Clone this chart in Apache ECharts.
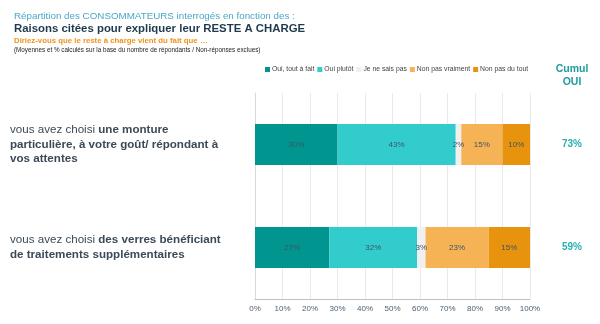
<!DOCTYPE html>
<html><head><meta charset="utf-8">
<script src="https://cdn.jsdelivr.net/npm/echarts@6/dist/echarts.min.js"></script>
<style>html,body{margin:0;padding:0;background:#fff}#c{width:600px;height:324px}</style>
</head><body><div id="c"></div>
<script>
const categories = [
  "vous avez choisi {b|une monture}\n{b|particulière, à votre goût/ répondant à}\n{b|vos attentes}",
  "vous avez choisi {b|des verres bénéficiant}\n{b|de traitements supplémentaires}"
];
const seriesNames = ["Oui, tout à fait", "Oui plutôt", "Je ne sais pas", "Non pas vraiment", "Non pas du tout"];
const ouiToutAFait = [30, 27];
const ouiPlutot = [43, 32];
const jeNeSaisPas = [2, 3];
const nonPasVraiment = [15, 23];
const nonPasDuTout = [10, 15];
const cumulOui = [73, 59];
const xTicks = [0, 10, 20, 30, 40, 50, 60, 70, 80, 90, 100];

const colors = ["#00968F", "#33CCCC", "#F0F0F0", "#F5B356", "#E8930E"];
const values = [ouiToutAFait, ouiPlutot, jeNeSaisPas, nonPasVraiment, nonPasDuTout];

const chart = echarts.init(document.getElementById('c'), null, {renderer: 'canvas'});
const font = 'Liberation Sans, Arial, sans-serif';
chart.setOption({
  animation: false,
  textStyle: {fontFamily: font},
  title: [
    {text: 'Répartition des CONSOMMATEURS interrogés en fonction des :', left: 9, top: 6,
     textStyle: {fontSize: 9.8, fontWeight: 'normal', color: '#4BA8C8', fontFamily: font}},
    {text: 'Raisons citées pour expliquer leur RESTE A CHARGE', left: 9, top: 18,
     textStyle: {fontSize: 11.4, fontWeight: 'bold', color: '#1E3A4F', fontFamily: font}},
    {text: 'Diriez-vous que le reste à charge vient du fait que …', left: 9, top: 32,
     textStyle: {fontSize: 7.8, fontWeight: 'bold', color: '#F0921A', fontFamily: font}},
    {text: '(Moyennes et % calculés sur la base du nombre de répondants / Non-réponses exclues)', left: 9, top: 42,
     textStyle: {fontSize: 6.3, fontWeight: 'normal', color: '#222', fontFamily: font}}
  ],
  graphic: [{
    type: 'text', x: 572, y: 62,
    style: {text: 'Cumul\nOUI', align: 'center', verticalAlign: 'top', fontSize: 10.5, fontWeight: 'bold', fill: '#1E9C9C', lineHeight: 13.5, fontFamily: font}
  }],
  legend: {
    data: seriesNames, left: 260, top: 61, itemWidth: 5, itemHeight: 5, itemGap: 3, icon: 'rect',
    textStyle: {fontSize: 6.8, color: '#444', padding: [0, 0, 0, -3]}
  },
  grid: {left: 255, right: 70, top: 93, bottom: 25},
  xAxis: {
    type: 'value', min: 0, max: 100, interval: 10,
    axisLabel: {formatter: v => v + '%', fontSize: 8, color: '#4A6175', margin: 6},
    axisLine: {show: true, lineStyle: {color: '#BFBFBF'}},
    axisTick: {show: false},
    splitLine: {show: true, lineStyle: {color: '#EAEAEA'}}
  },
  yAxis: [{
    type: 'category', data: categories, inverse: true,
    axisLine: {show: true, lineStyle: {color: '#D9D9D9'}},
    axisTick: {show: false},
    axisLabel: {
      align: 'left', margin: 245, fontSize: 11.6, color: '#3C4A57', lineHeight: 14.5,
      rich: {b: {fontWeight: 'bold', fontSize: 11.6, color: '#3C4A57', lineHeight: 14.5}}
    }
  }, {
    type: 'category', data: cumulOui, inverse: true, position: 'right',
    axisLine: {show: false}, axisTick: {show: false},
    axisLabel: {align: 'center', margin: 42, formatter: v => v + '%', fontSize: 10, fontWeight: 'bold', color: '#2BB0B0'}
  }],
  series: values.map((d, i) => ({
    name: seriesNames[i], type: 'bar', stack: 'total', data: d, barWidth: '40%',
    itemStyle: {color: colors[i]},
    label: {show: true, position: 'inside', formatter: p => p.value + '%', fontSize: 8, color: '#3E5566'}
  }))
});
</script></body></html>
